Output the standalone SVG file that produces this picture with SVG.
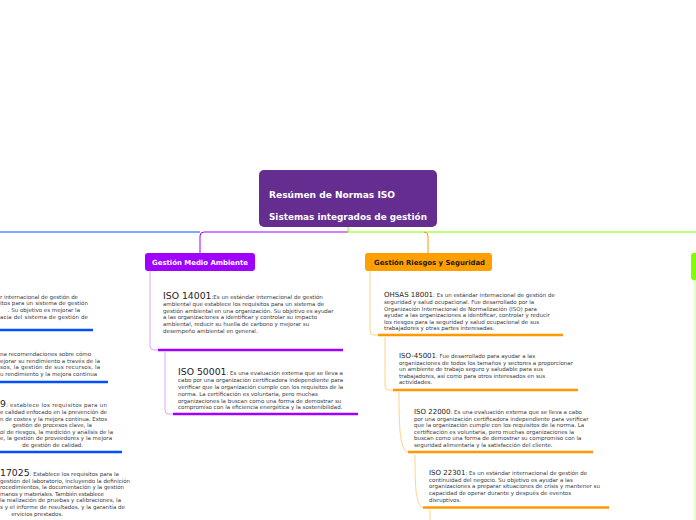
<svg xmlns="http://www.w3.org/2000/svg" width="696" height="520" viewBox="0 0 696 520">
<style>
.t{font-family:"DejaVu Sans",Verdana,sans-serif;font-size:5.5px;fill:#3a3a3a}
.big{font-size:9.3px;fill:#222}
.mid{font-size:7px;fill:#222}
.hd{font-family:"DejaVu Sans",Verdana,sans-serif;font-weight:bold;font-size:7px}
.ct{font-family:"DejaVu Sans",Verdana,sans-serif;font-weight:bold;font-size:9px;fill:#fff}
.e{text-anchor:end}
.thin{fill:none;stroke-width:1}
.thick{fill:none;stroke-width:2.6}
.bl{stroke:#0050ff}
.pu{stroke:#a000ff}
.lpu{stroke:#d8a8ff}
.or{stroke:#ff9900}
.lor{stroke:#ffd38a}
.gr{stroke:#80ff00}
</style>
<rect width="696" height="520" fill="#fff"/>
<g id="connectors">
<path class="thin bl" d="M0 232H200" stroke-width="1.5"/>
<path class="thin pu" d="M348 232H204Q200 232 200 236V253" stroke-width="1.3"/>
<path class="thin gr" d="M348 227V232H696" stroke-width="1.5"/>
<path class="thin or" d="M424 232Q428 232 428 236V253" stroke-width="1"/>
<path class="thin" d="M695 280V520" stroke="#c4ff8a"/>
<path class="thin lpu" d="M150 271V346Q150 350 154 350H158"/>
<path class="thin lpu" d="M165 352V410Q165 414 169 414H173"/>
<path class="thin lor" d="M370 271V331Q370 335 374 335H378"/>
<path class="thin lor" d="M385 337V386Q385 390 389 390H393"/>
<path class="thin lor" d="M399 392C399 430 400 450 408 452"/>
<path class="thin lor" d="M415 455C415 490 416 505 423 507.5"/>
<path class="thin lor" d="M430 510V520"/>
</g>
<g id="central">
<rect x="259" y="170" width="178" height="57" rx="5" fill="#662d91"/>
<text class="ct" x="269" y="197.5" textLength="126" lengthAdjust="spacingAndGlyphs">Resúmen de Normas ISO</text>
<text class="ct" x="269" y="219.5" textLength="158" lengthAdjust="spacingAndGlyphs">Sistemas integrados de gestión</text>
</g>
<g id="medio-ambiente">
<rect x="145" y="253" width="110" height="18" rx="3" fill="#a000ff"/>
<text class="hd" x="152" y="264.5" fill="#fff" textLength="96" lengthAdjust="spacingAndGlyphs">Gestión Medio Ambiente</text>
</g>
<g id="riesgos">
<rect x="365" y="253" width="127" height="18" rx="3" fill="#ffa000"/>
<text class="hd" x="374" y="264.5" fill="#1a1a1a" textLength="111" lengthAdjust="spacingAndGlyphs">Gestión Riesgos y Seguridad</text>
</g>
<g id="green-node">
<rect x="691" y="253" width="20" height="27" rx="3" fill="#80ff00"/>
</g>
<g id="iso14001">
<text class="t" x="163" y="299"><tspan class="big">ISO 14001</tspan>:Es un estándar internacional de gestión</text>
<text class="t" x="163" y="306">ambiental que establece los requisitos para un sistema de</text>
<text class="t" x="163" y="312.5">gestión ambiental en una organización. Su objetivo es ayudar</text>
<text class="t" x="163" y="319">a las organizaciones a identificar y controlar su impacto</text>
<text class="t" x="163" y="325.8">ambiental, reducir su huella de carbono y mejorar su</text>
<text class="t" x="163" y="332.5">desempeño ambiental en general.</text>
<path class="thick pu" d="M158 350H343"/>
</g>
<g id="iso50001">
<text class="t" x="178" y="374.5"><tspan class="big">ISO 50001</tspan>: Es una evaluación externa que se lleva a</text>
<text class="t" x="178" y="382">cabo por una organización certificadora independiente para</text>
<text class="t" x="178" y="389">verificar que la organización cumple con los requisitos de la</text>
<text class="t" x="178" y="395.7">norma. La certificación es voluntaria, pero muchas</text>
<text class="t" x="178" y="402.5">organizaciones la buscan como una forma de demostrar su</text>
<text class="t" x="178" y="409">compromiso con la eficiencia energética y la sostenibilidad.</text>
<path class="thick pu" d="M173 414H358"/>
</g>
<g id="ohsas18001">
<text class="t" x="384" y="297"><tspan class="mid">OHSAS 18001</tspan>: Es un estándar internacional de gestión de</text>
<text class="t" x="384" y="304">seguridad y salud ocupacional. Fue desarrollado por la</text>
<text class="t" x="384" y="310.5">Organización Internacional de Normalización (ISO) para</text>
<text class="t" x="384" y="317">ayudar a las organizaciones a identificar, controlar y reducir</text>
<text class="t" x="384" y="323.5">los riesgos para la seguridad y salud ocupacional de sus</text>
<text class="t" x="384" y="330">trabajadores y otras partes interesadas.</text>
<path class="thick or" d="M378 335H563"/>
</g>
<g id="iso45001">
<text class="t" x="399" y="357.5"><tspan class="mid">ISO-45001</tspan>: Fue desarrollado para ayudar a las</text>
<text class="t" x="399" y="365">organizaciones de todos los tamaños y sectores a proporcionar</text>
<text class="t" x="399" y="371.3">un ambiente de trabajo seguro y saludable para sus</text>
<text class="t" x="399" y="377.7">trabajadores, así como para otros interesados en sus</text>
<text class="t" x="399" y="384">actividades.</text>
<path class="thick or" d="M393 390H578"/>
</g>
<g id="iso22000">
<text class="t" x="414" y="413.5"><tspan class="mid">ISO 22000</tspan>: Es una evaluación externa que se lleva a cabo</text>
<text class="t" x="414" y="420.5">por una organización certificadora independiente para verificar</text>
<text class="t" x="414" y="427">que la organización cumple con los requisitos de la norma. La</text>
<text class="t" x="414" y="433.5">certificación es voluntaria, pero muchas organizaciones la</text>
<text class="t" x="414" y="440">buscan como una forma de demostrar su compromiso con la</text>
<text class="t" x="414" y="446.5">seguridad alimentaria y la satisfacción del cliente.</text>
<path class="thick or" d="M408 452H593"/>
</g>
<g id="iso22301">
<text class="t" x="429" y="475"><tspan class="mid">ISO 22301</tspan>: Es un estándar internacional de gestión de</text>
<text class="t" x="429" y="481.7">continuidad del negocio. Su objetivo es ayudar a las</text>
<text class="t" x="429" y="488.3">organizaciones a preparar situaciones de crisis y mantener su</text>
<text class="t" x="429" y="495">capacidad de operar durante y después de eventos</text>
<text class="t" x="429" y="501.5">disruptivos.</text>
<path class="thick or" d="M423 507.5H609"/>
</g>
<g id="left-block-1">
<text class="t" x="0" y="298.5" textLength="78" lengthAdjust="spacing">r internacional de gestión de</text>
<text class="t" x="0" y="305" textLength="88" lengthAdjust="spacing">itos para un sistema de gestión</text>
<text class="t e" x="80" y="311.5">. Su objetivo es mejorar la</text>
<text class="t" x="0" y="318.5" textLength="88" lengthAdjust="spacing">acia del sistema de gestión de</text>
<path class="thick bl" d="M0 330H93"/>
</g>
<g id="left-block-2">
<text class="t" x="0" y="356" textLength="91" lengthAdjust="spacing">na recomendaciones sobre cómo</text>
<text class="t" x="0" y="362.7" textLength="100" lengthAdjust="spacing">ejorar su rendimiento a través de la</text>
<text class="t" x="0" y="369.3" textLength="100" lengthAdjust="spacing">sos, la gestión de sus recursos, la</text>
<text class="t" x="0" y="376" textLength="97" lengthAdjust="spacing">u rendimiento y la mejora continua</text>
<path class="thick bl" d="M0 382H108"/>
</g>
<g id="left-block-3">
<text class="t" x="0" y="407"><tspan class="big">9</tspan><tspan letter-spacing="0.3">: establece los requisitos para un</tspan></text>
<text class="t" x="0" y="414" textLength="107" lengthAdjust="spacing">e calidad enfocado en la prevención de</text>
<text class="t" x="0" y="420.5" textLength="107" lengthAdjust="spacing">n de costes y la mejora continua. Estos</text>
<text class="t e" x="92" y="427">gestión de procesos clave, la</text>
<text class="t" x="0" y="433.5" textLength="113" lengthAdjust="spacing">ol de riesgos, la medición y análisis de la</text>
<text class="t" x="0" y="440" textLength="112" lengthAdjust="spacing">e, la gestión de proveedores y la mejora</text>
<text class="t e" x="83" y="446.5">de gestión de calidad.</text>
<path class="thick bl" d="M0 452H122"/>
</g>
<g id="left-block-4">
<text class="t" x="0" y="476"><tspan class="big">17025</tspan>: Establece los requisitos para la</text>
<text class="t" x="0" y="482.6" textLength="130" lengthAdjust="spacing">gestión del laboratorio, incluyendo la definición</text>
<text class="t" x="0" y="489.2" textLength="124" lengthAdjust="spacing">rocedimientos, la documentación y la gestión</text>
<text class="t" x="0" y="495.8" textLength="104" lengthAdjust="spacing">manos y materiales. También establece</text>
<text class="t" x="0" y="502.4" textLength="121" lengthAdjust="spacing">la realización de pruebas y calibraciones, la</text>
<text class="t" x="0" y="509" textLength="125" lengthAdjust="spacing">s y el informe de resultados, y la garantía de</text>
<text class="t e" x="63" y="515.6">ervicios prestados.</text>
</g>
</svg>
